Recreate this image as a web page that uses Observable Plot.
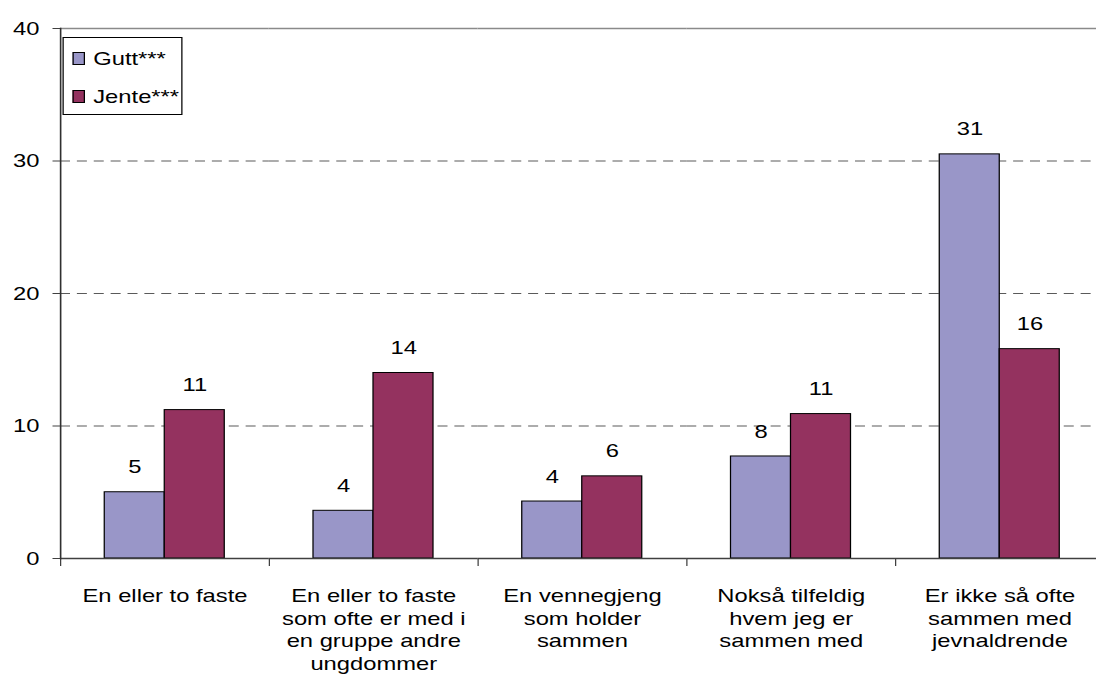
<!DOCTYPE html>
<html>
<head>
<meta charset="utf-8">
<script src="https://cdn.jsdelivr.net/npm/d3@7"></script>
<script src="https://cdn.jsdelivr.net/npm/@observablehq/plot@0.6"></script>
<style>
  html, body { margin: 0; padding: 0; background: #fff; overflow: hidden; }
  #wrap { width: 1096px; height: 697px; overflow: hidden; position: relative; background: #fff; }
  #inner { position: absolute; left: 0; top: 0; transform: scaleX(1.25); transform-origin: 0 0; }
  .legend { position: absolute; border: 1px solid #000; background: #fff; box-sizing: border-box;
            font-family: "Liberation Sans", Arial, sans-serif; font-size: 19px; color: #000; }
  .legend .item { position: absolute; white-space: nowrap; line-height: 1; }
  .legend .sw { position: absolute; border: 1px solid #000; box-sizing: border-box; }
</style>
</head>
<body>
<div id="wrap"><div id="inner"></div></div>
<script>
// ---- data ----
const categories = [
  "En eller to faste",
  "En eller to faste som ofte er med i en gruppe andre ungdommer",
  "En vennegjeng som holder sammen",
  "Nokså tilfeldig hvem jeg er sammen med",
  "Er ikke så ofte sammen med jevnaldrende"
];
const categoryLabels = [
  "En eller to faste",
  "En eller to faste\nsom ofte er med i\nen gruppe andre\nungdommer",
  "En vennegjeng\nsom holder\nsammen",
  "Nokså tilfeldig\nhvem jeg er\nsammen med",
  "Er ikke så ofte\nsammen med\njevnaldrende"
];
const series = ["Gutt***", "Jente***"];
const gutt  = [5.0, 3.6, 4.3, 7.7, 30.5];
const jente = [11.2, 14.0, 6.2, 10.9, 15.8];
const yTicks = [0, 10, 20, 30, 40];
const gridTicks = [10, 20, 30];
const colors = ["#9996C8", "#94325F"];

const data = categories.flatMap((c, i) => [
  {category: c, series: series[0], value: gutt[i]},
  {category: c, series: series[1], value: jente[i]}
]);
const labelData = categories.map((c, i) => ({category: c, label: categoryLabels[i]}));

const S = 1.25;
const W = Math.round(1106 / S);
const chart = Plot.plot({
  width: W,
  height: 697,
  marginLeft: 57 / S,
  marginRight: 0,
  marginTop: 28,
  marginBottom: 139,
  style: {fontFamily: "Liberation Sans, Arial, sans-serif", fontSize: "19px", color: "#000", background: "#fff"},
  fx: {domain: categories, padding: 0, axis: null},
  x: {domain: series, paddingInner: 0, paddingOuter: 0.724, axis: null},
  y: {domain: [0, 40], axis: null},
  color: {domain: series, range: colors},
  marks: [
    Plot.ruleY(gridTicks, {stroke: "#5a5a5a", strokeDasharray: "8,5.5"}),
    Plot.ruleY([40], {stroke: "#8a8a8a", strokeWidth: 1.3}),
    Plot.barY(data, {fx: "category", x: "series", y: "value", fill: "series", stroke: "#000", strokeWidth: 1}),
    Plot.text(data, {fx: "category", x: "series", y: "value", text: d => d3.format(".0f")(d.value),
                     lineAnchor: "middle", dy: -25, fill: "#000"}),
    Plot.ruleY([0], {stroke: "#404040", strokeWidth: 1.6}),
    Plot.frame({anchor: "left", insetTop: 530, insetBottom: -7, stroke: "#404040", strokeWidth: 1}),
    Plot.frame({anchor: "left", facetAnchor: "left", stroke: "#303030", strokeWidth: 1.3}),
    Plot.axisY({ticks: yTicks, tickSize: 6, tickPadding: 11, tickFormat: d => String(d), stroke: "#404040", label: null}),
    Plot.text(labelData, {fx: "category", text: "label", frameAnchor: "bottom", lineAnchor: "top",
                          dy: 28, lineHeight: 1.18, fill: "#000"})
  ]
});
const inner = document.getElementById("inner");
inner.appendChild(chart);

// legend (inside the same stretched container)
const legend = document.createElement("div");
legend.className = "legend";
legend.style.left = (62 / S) + "px";
legend.style.top = "37px";
legend.style.width = (120 / S) + "px";
legend.style.height = "78px";
series.forEach((s, i) => {
  const sw = document.createElement("div");
  sw.className = "sw";
  sw.style.left = (9 / S) + "px";
  sw.style.top = (14 + i * 38) + "px";
  sw.style.width = (13 / S) + "px";
  sw.style.height = "13px";
  sw.style.background = colors[i];
  legend.appendChild(sw);
  const t = document.createElement("div");
  t.className = "item";
  t.style.left = (30 / S) + "px";
  t.style.top = (11 + i * 38) + "px";
  t.textContent = s;
  legend.appendChild(t);
});
inner.appendChild(legend);
</script>
</body>
</html>
